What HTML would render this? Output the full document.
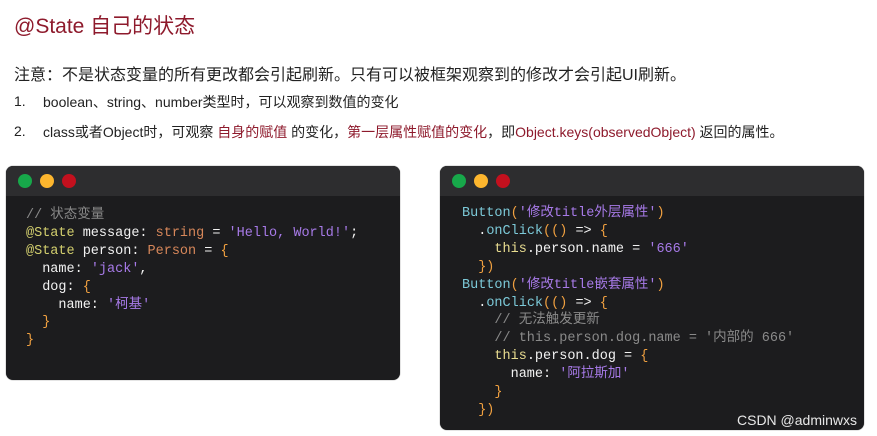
<!DOCTYPE html>
<html><head><meta charset="utf-8"><style>
body{margin:0;width:877px;height:436px;background:#fff;position:relative;overflow:hidden;font-family:"Liberation Sans","Noto Sans CJK SC",sans-serif;}
.t{position:absolute;white-space:nowrap;}
.r{color:#8e1a2c}
.win{position:absolute;background:#1c1c1e;border-radius:7px;overflow:hidden;box-shadow:0 0 1px #555;}
.hd{height:30px;background:#2d2d2f;position:relative}
.c{position:absolute;top:8px;width:14px;height:14px;border-radius:50%}
.code{position:absolute;font-family:"Liberation Mono","Noto Sans CJK SC",monospace;font-size:13.5px;line-height:18px;color:#f2f2f2;white-space:pre;}
.cm{color:#8a8a8a}.an{color:#d3cf6e}.ty{color:#d7875a}.s{color:#a77ae8}.p{color:#f0a040}.fn{color:#7cc9d8}.k{color:#e8dc90}
</style></head><body>
<div class="t r" style="left:14px;top:10px;font-size:21px;">@State 自己的状态</div>
<div class="t" style="left:14px;top:61px;font-size:16px;color:#222">注意：不是状态变量的所有更改都会引起刷新。只有可以被框架观察到的修改才会引起UI刷新。</div>
<div class="t" style="left:14px;top:93px;font-size:14px;color:#222">1.</div>
<div class="t" style="left:43px;top:92px;font-size:14px;color:#222">boolean、string、number类型时，可以观察到数值的变化</div>
<div class="t" style="left:14px;top:123px;font-size:14px;color:#222">2.</div>
<div class="t" style="left:43px;top:122px;font-size:14px;color:#222">class或者Object时，可观察 <span class="r">自身的赋值</span> 的变化，<span class="r">第一层属性赋值的变化</span>，即<span class="r">Object.keys(observedObject)</span> 返回的属性。</div>

<div class="win" style="left:6px;top:166px;width:394px;height:214px;">
<div class="hd"><div class="c" style="left:12px;background:#17a84a"></div><div class="c" style="left:34px;background:#fdb62e"></div><div class="c" style="left:56px;background:#c3101e"></div></div>
<div class="code" style="left:20px;top:41px;line-height:17.9px"><span class="cm">// 状态变量</span>
<span class="an">@State</span> message: <span class="ty">string</span> = <span class="s">'Hello, World!'</span>;
<span class="an">@State</span> person: <span class="ty">Person</span> = <span class="p">{</span>
  name: <span class="s">'jack'</span>,
  dog: <span class="p">{</span>
    name: <span class="s">'柯基'</span>
  <span class="p">}</span>
<span class="p">}</span></div>
</div>

<div class="win" style="left:440px;top:166px;width:424px;height:264px;">
<div class="hd"><div class="c" style="left:12px;background:#17a84a"></div><div class="c" style="left:34px;background:#fdb62e"></div><div class="c" style="left:56px;background:#c3101e"></div></div>
<div class="code" style="left:22px;top:39px;line-height:17.9px"><span class="fn">Button</span><span class="p">(</span><span class="s">'修改title外层属性'</span><span class="p">)</span>
  .<span class="fn">onClick</span><span class="p">(()</span> => <span class="p">{</span>
    <span class="k">this</span>.person.name = <span class="s">'666'</span>
  <span class="p">})</span>
<span class="fn">Button</span><span class="p">(</span><span class="s">'修改title嵌套属性'</span><span class="p">)</span>
  .<span class="fn">onClick</span><span class="p">(()</span> => <span class="p">{</span>
    <span class="cm">// 无法触发更新</span>
    <span class="cm">// this.person.dog.name = '内部的 666'</span>
    <span class="k">this</span>.person.dog = <span class="p">{</span>
      name: <span class="s">'阿拉斯加'</span>
    <span class="p">}</span>
  <span class="p">})</span></div>
</div>
<div class="t" style="left:737px;top:412px;font-size:14px;color:#e8e8e8;">CSDN @adminwxs</div>
</body></html>
